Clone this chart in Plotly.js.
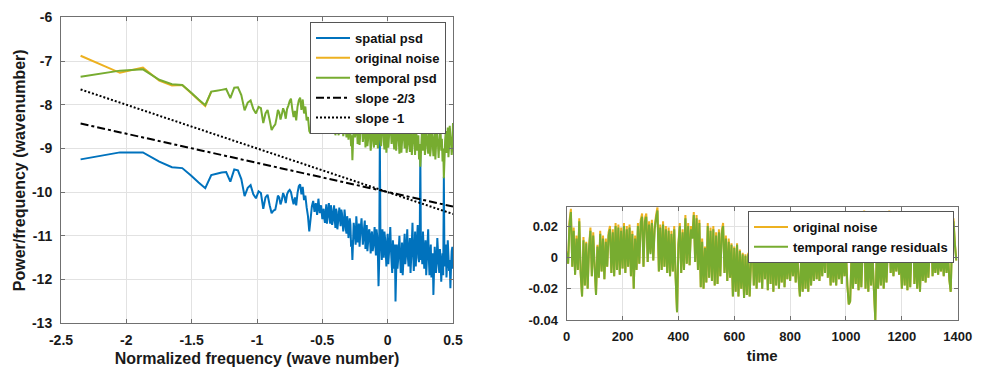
<!DOCTYPE html>
<html>
<head>
<meta charset="utf-8">
<script src="https://cdn.plot.ly/plotly-3.0.1.min.js"></script>
<style>
  html, body { margin: 0; padding: 0; background: #ffffff; }
  #chart { width: 984px; height: 367px; }
</style>
</head>
<body>
<div id="chart"></div>
<script>
// ---------------- Left panel: PSD (log10 normalized frequency) ----------------
const psdFreq = [
  -2.350,-2.049,-1.873,-1.748,-1.651,-1.572,-1.505,-1.447,-1.396,-1.350,
  -1.309,-1.271,-1.236,-1.204,-1.174,-1.146,-1.120,-1.095,-1.071,-1.049,
  -1.028,-1.008,-0.988,-0.970,-0.952,-0.935,-0.919,-0.903,-0.888,-0.873,
  -0.86,-0.85,-0.84,-0.83,-0.82,-0.81,-0.80,-0.79,-0.78,-0.77,
  -0.76,-0.75,-0.74,-0.73,-0.72,-0.71,-0.70,-0.69,-0.68,-0.67,
  -0.66,-0.65,-0.64,-0.63,-0.62,-0.61,-0.60,-0.59,-0.58,-0.57,
  -0.56,-0.55,-0.54,-0.53,-0.52,-0.51,
  -0.500,-0.495,-0.490,-0.485,-0.480,-0.475,-0.470,-0.465,-0.460,-0.455,
  -0.450,-0.445,-0.440,-0.435,-0.430,-0.425,-0.420,-0.415,-0.410,-0.405,
  -0.400,-0.395,-0.390,-0.385,-0.380,-0.375,-0.370,-0.365,-0.360,-0.355,
  -0.350,-0.345,-0.340,-0.335,-0.330,-0.325,-0.320,-0.315,-0.310,-0.305,
  -0.300,-0.295,-0.290,-0.285,-0.280,-0.275,-0.270,-0.265,-0.260,-0.255,
  -0.250,-0.245,-0.240,-0.235,-0.230,-0.225,-0.220,-0.215,-0.210,-0.205,
  -0.200,-0.195,-0.190,-0.185,-0.180,-0.175,-0.170,-0.165,-0.160,-0.155,
  -0.150,-0.145,-0.140,-0.135,-0.130,-0.125,-0.120,-0.115,-0.110,-0.105,
  -0.100,-0.095,-0.090,-0.085,-0.080,-0.075,-0.070,-0.065,-0.060,-0.055,
  -0.050,-0.045,-0.040,-0.035,-0.030,-0.025,-0.020,-0.015,-0.010,-0.005,
  0.000,0.005,0.010,0.015,0.020,0.025,0.030,0.035,0.040,0.045,
  0.050,0.055,0.060,0.065,0.070,0.075,0.080,0.085,0.090,0.095,
  0.100,0.105,0.110,0.115,0.120,0.125,0.130,0.135,0.140,0.145,
  0.150,0.155,0.160,0.165,0.170,0.175,0.180,0.185,0.190,0.195,
  0.200,0.205,0.210,0.215,0.220,0.225,0.230,0.235,0.240,0.245,
  0.250,0.255,0.260,0.265,0.270,0.275,0.280,0.285,0.290,0.295,
  0.300,0.305,0.310,0.315,0.320,0.325,0.330,0.335,0.340,0.345,
  0.350,0.355,0.360,0.365,0.370,0.375,0.380,0.385,0.390,0.395,
  0.400,0.405,0.410,0.415,0.420,0.425,0.430,0.435,0.440,0.445,
  0.450,0.455,0.460,0.465,0.470,0.475,0.480,0.485,0.490,0.495,
  0.500
];

const spatialPsd = [
  -9.25,-9.09,-9.09,-9.30,-9.43,-9.45,-9.62,-9.78,-9.91,-9.61,
  -9.58,-9.55,-9.54,-9.76,-9.48,-9.50,-9.70,-10.09,-9.90,-9.84,
  -10.05,-10.14,-9.98,-10.02,-10.38,-10.12,-10.06,-10.30,-10.48,-10.42,
  -10.40,-10.25,-10.08,-10.12,-10.28,-10.18,-10.02,-10.10,-10.25,-10.05,
  -9.98,-9.95,-10.00,-10.15,-10.28,-10.12,-10.30,-10.02,-9.86,-9.82,
  -10.05,-9.88,-10.18,-10.08,-10.35,-10.55,-10.90,-10.62,-10.32,-10.20,
  -10.45,-10.25,-10.52,-10.15,-10.48,-10.30,
  -10.62,-10.45,-10.38,-10.60,-10.70,-10.50,-10.28,-10.72,-10.58,-10.40,
  -10.25,-10.55,-10.72,-10.30,-10.40,-10.75,-10.66,-10.48,-10.30,-10.62,
  -10.82,-10.38,-10.45,-10.85,-10.70,-10.55,-10.35,-10.60,-10.78,-10.40,
  -10.48,-10.68,-10.90,-10.75,-10.40,-10.58,-10.85,-10.95,-10.55,-10.70,
  -11.05,-10.88,-10.60,-10.75,-11.25,-11.10,-11.55,-11.15,-10.70,-10.85,
  -11.00,-11.20,-10.55,-10.80,-11.15,-10.95,-10.72,-11.25,-10.98,-10.78,
  -10.60,-10.90,-11.20,-11.05,-10.80,-10.65,-11.30,-11.00,-10.75,-11.35,
  -11.15,-10.90,-10.85,-11.10,-11.40,-11.00,-10.90,-11.35,-11.25,-11.05,
  -10.80,-11.15,-11.45,-10.85,-11.00,-11.40,-12.15,-11.60,-8.75,-11.10,
  -11.30,-11.55,-10.85,-11.20,-11.50,-10.90,-11.05,-11.35,-11.70,-11.20,
  -10.95,-11.65,-11.40,-11.15,-10.80,-11.30,-11.60,-11.85,-11.10,-11.35,
  -11.75,-11.20,-12.50,-11.85,-11.20,-11.75,-11.55,-11.30,-11.00,-11.45,
  -11.85,-11.60,-11.15,-11.90,-11.60,-11.25,-10.95,-11.65,-11.45,-11.20,
  -10.85,-11.50,-11.70,-11.30,-11.05,-11.85,-11.50,-11.15,-10.70,-11.40,
  -11.80,-11.45,-10.90,-11.70,-11.35,-11.05,-10.75,-11.50,-11.60,-11.20,
  -9.15,-11.55,-11.30,-11.65,-10.90,-11.25,-11.75,-11.45,-11.10,-11.90,
  -11.55,-11.20,-10.85,-11.50,-11.90,-11.45,-11.20,-11.95,-11.70,-11.40,
  -12.35,-11.80,-11.25,-11.50,-11.85,-11.60,-11.05,-11.35,-11.65,-11.85,
  -11.30,-11.55,-12.05,-11.70,-11.40,-11.90,-9.65,-11.70,-11.50,-11.20,
  -11.95,-11.60,-11.10,-11.45,-11.80,-11.55,-12.20,-11.70,-11.35,-11.25,
  -11.75
];

const temporalPsd = [
  -7.36,-7.22,-7.19,-7.43,-7.53,-7.55,-7.72,-7.88,-8.01,-7.70,
  -7.68,-7.66,-7.64,-7.85,-7.61,-7.60,-7.78,-8.13,-7.95,-7.90,
  -8.10,-8.20,-8.05,-8.08,-8.42,-8.20,-8.12,-8.35,-8.58,-8.50,
  -8.45,-8.30,-8.12,-8.18,-8.34,-8.22,-8.08,-8.16,-8.32,-8.10,
  -8.02,-7.92,-7.86,-8.10,-8.28,-8.14,-8.36,-8.05,-7.90,-7.84,
  -8.12,-7.88,-8.20,-8.04,-8.36,-8.28,-8.60,-8.66,-8.34,-8.12,
  -8.42,-8.18,-8.46,-8.06,-8.38,-8.20,
  -8.52,-8.36,-8.28,-8.20,-8.60,-8.44,-8.15,-8.58,-8.48,-8.30,
  -8.22,-8.40,-8.62,-8.50,-8.30,-8.24,-8.55,-8.64,-8.18,-8.35,
  -8.70,-8.52,-8.36,-8.28,-8.58,-8.70,-8.25,-8.40,-8.66,-8.55,
  -8.35,-8.28,-8.72,-8.62,-8.18,-8.40,-8.60,-8.75,-8.42,-8.30,
  -8.80,-8.58,-8.30,-8.62,-8.95,-8.70,-9.27,-8.85,-8.50,-8.40,
  -8.75,-8.62,-8.32,-8.48,-8.90,-8.70,-8.45,-8.92,-8.68,-8.55,
  -8.28,-8.40,-8.85,-8.70,-8.52,-8.38,-8.98,-8.66,-8.40,-8.95,
  -8.80,-8.32,-8.55,-8.72,-9.05,-8.88,-8.48,-8.40,-8.78,-8.98,
  -8.35,-8.58,-8.92,-8.42,-8.60,-9.00,-8.88,-8.62,-8.45,-8.70,
  -8.95,-8.55,-8.30,-8.48,-8.82,-9.02,-8.58,-8.40,-9.10,-8.78,
  -8.42,-8.98,-8.75,-8.50,-8.25,-8.62,-8.90,-8.35,-8.55,-8.80,
  -9.02,-8.70,-8.38,-9.05,-8.80,-8.45,-8.62,-8.82,-9.12,-8.70,
  -8.48,-9.10,-8.85,-8.60,-8.35,-8.75,-9.00,-8.40,-8.62,-9.10,
  -8.95,-8.72,-8.50,-8.85,-9.08,-8.48,-8.70,-9.15,-8.92,-8.68,
  -8.45,-8.82,-9.15,-8.52,-8.66,-9.05,-8.95,-8.70,-9.25,-8.90,
  -9.42,-9.10,-8.75,-8.52,-9.05,-8.85,-8.58,-9.15,-8.98,-8.55,
  -8.72,-8.88,-9.12,-8.75,-8.50,-9.18,-9.02,-8.58,-8.68,-8.90,
  -9.18,-8.82,-8.60,-9.25,-8.95,-8.52,-8.78,-8.92,-9.22,-8.85,
  -8.55,-8.62,-9.05,-8.78,-9.30,-9.00,-9.68,-9.25,-8.80,-8.60,
  -9.10,-8.88,-8.52,-9.20,-8.96,-8.48,-8.70,-8.85,-9.15,-8.95,
  -8.42
];

// original noise spectrum (only differs visibly at the lowest wavenumbers)
const noiseFreq = [-2.350,-2.049,-1.873,-1.748,-1.651,-1.572,-1.505,-1.447,-1.396,-1.350];
const noisePsd  = [-6.88,-7.27,-7.15,-7.45,-7.56,-7.55,-7.73,-7.89,-8.03,-7.70];

// reference slopes (end points)
const slopeX    = [-2.35, 0.50];
const slope23Y  = [-8.43, -10.33];
const slope1Y   = [-7.65, -10.50];

const psdXTickVals = [-2.5,-2,-1.5,-1,-0.5,0,0.5];
const psdXTickText = ['-2.5','-2','-1.5','-1','-0.5','0','0.5'];
const psdYTickVals = [-13,-12,-11,-10,-9,-8,-7,-6];
const psdYTickText = ['-13','-12','-11','-10','-9','-8','-7','-6'];

// ---------------- Right panel: time series ----------------
const timeSteps = [
  0,5,10,15,20,25,30,35,40,45,50,55,60,65,70,75,80,85,90,95,
  100,105,110,115,120,125,130,135,140,145,150,155,160,165,170,175,180,185,190,195,
  200,205,210,215,220,225,230,235,240,245,250,255,260,265,270,275,280,285,290,295,
  300,305,310,315,320,325,330,335,340,345,350,355,360,365,370,375,380,385,390,395,
  400,405,410,415,420,425,430,435,440,445,450,455,460,465,470,475,480,485,490,495,
  500,505,510,515,520,525,530,535,540,545,550,555,560,565,570,575,580,585,590,595,
  600,605,610,615,620,625,630,635,640,645,650,655,660,665,670,675,680,685,690,695,
  700,705,710,715,720,725,730,735,740,745,750,755,760,765,770,775,780,785,790,795,
  800,805,810,815,820,825,830,835,840,845,850,855,860,865,870,875,880,885,890,895,
  900,905,910,915,920,925,930,935,940,945,950,955,960,965,970,975,980,985,990,995,
  1000,1005,1010,1015,1020,1025,1030,1035,1040,1045,1050,1055,1060,1065,1070,1075,1080,1085,1090,1095,
  1100,1105,1110,1115,1120,1125,1130,1135,1140,1145,1150,1155,1160,1165,1170,1175,1180,1185,1190,1195,
  1200,1205,1210,1215,1220,1225,1230,1235,1240,1245,1250,1255,1260,1265,1270,1275,1280,1285,1290,1295,
  1300,1305,1310,1315,1320,1325,1330,1335,1340,1345,1350,1355,1360,1365,1370,1375,1380,1385,1390,1395
];

const originalNoise = [
  0.004,-0.004,0.023,0.031,-0.006,0.019,-0.011,0.014,-0.008,0.025,
  -0.010,-0.025,0.013,-0.018,0.010,-0.020,0.007,0.019,-0.012,0.016,
  -0.006,-0.024,0.008,-0.013,0.017,-0.009,0.014,-0.014,0.012,-0.006,
  0.016,0.020,-0.010,0.018,-0.012,0.022,-0.008,0.021,-0.011,0.019,
  -0.007,0.022,-0.010,0.020,-0.006,0.021,-0.012,0.017,-0.020,0.014,
  -0.008,0.022,-0.004,0.024,0.028,-0.006,0.025,0.028,-0.003,0.023,
  0.003,0.024,-0.002,0.020,0.027,0.032,-0.009,0.021,-0.008,0.023,
  -0.006,0.020,-0.010,0.019,-0.012,0.017,-0.009,0.020,-0.013,-0.035,
  0.009,0.022,-0.010,0.018,-0.008,0.027,-0.004,0.022,-0.005,0.020,
  0.014,0.029,-0.003,0.027,-0.008,0.024,-0.019,0.012,-0.020,0.007,
  -0.016,0.022,-0.013,0.019,-0.015,0.020,-0.018,0.016,-0.017,0.018,
  -0.012,0.017,0.022,-0.010,0.014,-0.015,0.012,-0.013,0.009,-0.025,
  0.007,-0.022,0.009,-0.025,0.005,-0.020,0.003,-0.026,0.002,-0.024,
  0.003,-0.025,-0.003,0.012,-0.018,0.009,-0.020,0.013,-0.016,0.010,
  -0.020,0.014,-0.014,0.012,-0.021,0.015,-0.017,0.013,-0.022,0.009,
  -0.018,0.009,-0.020,0.006,-0.016,0.007,-0.019,0.005,-0.014,0.004,
  -0.015,0.005,-0.012,0.003,-0.016,0.006,-0.013,-0.025,0.004,-0.022,
  0.005,-0.020,0.003,-0.022,0.006,-0.018,0.004,-0.015,0.007,-0.014,
  0.006,-0.015,0.007,-0.012,0.012,-0.010,0.029,-0.013,0.005,-0.018,
  0.005,-0.016,0.004,-0.018,0.006,-0.014,0.003,-0.017,0.005,-0.012,
  0.004,-0.018,-0.030,-0.028,0.003,-0.020,0.005,-0.017,0.004,-0.021,
  0.005,-0.019,0.007,0.030,-0.020,0.004,-0.022,0.006,-0.018,0.003,
  -0.021,-0.040,0.005,-0.020,0.004,-0.018,0.006,-0.020,0.003,-0.016,
  0.007,0.030,-0.010,0.005,-0.012,0.004,-0.009,0.006,-0.011,0.003,
  -0.020,0.005,-0.018,0.004,-0.021,0.006,-0.019,0.007,0.027,-0.017,
  0.005,-0.020,0.004,-0.022,0.006,-0.015,0.003,-0.016,0.005,-0.013,
  0.006,0.027,-0.012,0.004,-0.010,0.005,-0.011,0.003,-0.009,0.004,
  -0.012,0.005,-0.010,0.004,-0.014,-0.022,0.014,0.025,0.009,-0.002
];

const rangeResiduals = [
  0.003,-0.004,0.021,0.029,-0.006,0.017,-0.011,0.012,-0.008,0.023,
  -0.010,-0.025,0.011,-0.018,0.009,-0.020,0.006,0.017,-0.012,0.014,
  -0.006,-0.024,0.007,-0.013,0.015,-0.009,0.012,-0.014,0.010,-0.006,
  0.014,0.018,-0.010,0.016,-0.012,0.020,-0.008,0.019,-0.011,0.017,
  -0.007,0.020,-0.010,0.018,-0.006,0.019,-0.012,0.015,-0.020,0.012,
  -0.008,0.020,-0.004,0.022,0.026,-0.006,0.023,0.026,-0.003,0.021,
  0.002,0.022,-0.002,0.018,0.025,0.030,-0.009,0.019,-0.008,0.021,
  -0.006,0.018,-0.010,0.017,-0.012,0.015,-0.009,0.018,-0.013,-0.035,
  0.008,0.020,-0.010,0.016,-0.008,0.025,-0.004,0.020,-0.005,0.018,
  0.012,0.027,-0.003,0.025,-0.008,0.022,-0.019,0.010,-0.020,0.006,
  -0.016,0.020,-0.013,0.017,-0.015,0.018,-0.018,0.014,-0.017,0.016,
  -0.012,0.015,0.020,-0.010,0.012,-0.015,0.010,-0.013,0.008,-0.025,
  0.006,-0.022,0.008,-0.025,0.004,-0.020,0.002,-0.026,0.001,-0.024,
  0.002,-0.025,-0.003,0.010,-0.018,0.008,-0.020,0.011,-0.016,0.009,
  -0.020,0.012,-0.014,0.010,-0.021,0.013,-0.017,0.011,-0.022,0.008,
  -0.018,0.008,-0.020,0.005,-0.016,0.006,-0.019,0.004,-0.014,0.003,
  -0.015,0.004,-0.012,0.002,-0.016,0.005,-0.013,-0.025,0.003,-0.022,
  0.004,-0.020,0.002,-0.022,0.005,-0.018,0.003,-0.015,0.006,-0.014,
  0.005,-0.015,0.006,-0.012,0.010,-0.010,0.026,-0.013,0.004,-0.018,
  0.004,-0.016,0.003,-0.018,0.005,-0.014,0.002,-0.017,0.004,-0.012,
  0.003,-0.018,-0.030,-0.028,0.002,-0.020,0.004,-0.017,0.003,-0.021,
  0.004,-0.019,0.006,0.027,-0.020,0.003,-0.022,0.005,-0.018,0.002,
  -0.021,-0.040,0.004,-0.020,0.003,-0.018,0.005,-0.020,0.002,-0.016,
  0.006,0.027,-0.010,0.004,-0.012,0.003,-0.009,0.005,-0.011,0.002,
  -0.020,0.004,-0.018,0.003,-0.021,0.005,-0.019,0.006,0.024,-0.017,
  0.004,-0.020,0.003,-0.022,0.005,-0.015,0.002,-0.016,0.004,-0.013,
  0.005,0.024,-0.012,0.003,-0.010,0.004,-0.011,0.002,-0.009,0.003,
  -0.012,0.004,-0.010,0.003,-0.014,-0.022,0.012,0.023,0.008,-0.002
];

const timeTickVals = [0,200,400,600,800,1000,1200,1400];
const timeTickText = ['0','200','400','600','800','1000','1200','1400'];
const resYTickVals = [-0.04,-0.02,0,0.02];
const resYTickText = ['-0.04','-0.02','0','0.02'];

// ---------------- Styling ----------------
const C_BLUE = '#0072BD', C_ORANGE = '#EDB120', C_GREEN = '#77AC30', C_BLACK = '#000000';
const FONT = 'Liberation Sans, Arial, Helvetica, sans-serif';
const W = 984, H = 367;

const traces = [
  { x: psdFreq, y: spatialPsd, type: 'scatter', mode: 'lines', name: 'spatial psd',
    line: { color: C_BLUE, width: 2, simplify: false }, xaxis: 'x', yaxis: 'y', legend: 'legend' },
  { x: noiseFreq, y: noisePsd, type: 'scatter', mode: 'lines', name: 'original noise',
    line: { color: C_ORANGE, width: 2, simplify: false }, xaxis: 'x', yaxis: 'y', legend: 'legend' },
  { x: psdFreq, y: temporalPsd, type: 'scatter', mode: 'lines', name: 'temporal psd',
    line: { color: C_GREEN, width: 2, simplify: false }, xaxis: 'x', yaxis: 'y', legend: 'legend' },
  { x: slopeX, y: slope23Y, type: 'scatter', mode: 'lines', name: 'slope -2/3',
    line: { color: C_BLACK, width: 2, dash: '8px,3px,3px,3px' }, xaxis: 'x', yaxis: 'y', legend: 'legend' },
  { x: slopeX, y: slope1Y, type: 'scatter', mode: 'lines', name: 'slope -1',
    line: { color: C_BLACK, width: 2, dash: '2px,2px' }, xaxis: 'x', yaxis: 'y', legend: 'legend' },
  { x: timeSteps, y: originalNoise, type: 'scatter', mode: 'lines', name: 'original noise',
    line: { color: C_ORANGE, width: 2, simplify: false }, xaxis: 'x2', yaxis: 'y2', legend: 'legend2' },
  { x: timeSteps, y: rangeResiduals, type: 'scatter', mode: 'lines', name: 'temporal range residuals',
    line: { color: C_GREEN, width: 2, simplify: false }, xaxis: 'x2', yaxis: 'y2', legend: 'legend2' }
];

const axisCommon = {
  showgrid: true, gridcolor: '#e2e2e2', gridwidth: 1, zeroline: false,
  showline: true, linecolor: '#707070', linewidth: 1, mirror: 'ticks',
  ticks: 'inside', ticklen: 4, tickcolor: '#707070', tickmode: 'array',
  fixedrange: true
};

const layout = {
  width: W, height: H,
  margin: { l: 0, r: 0, t: 0, b: 0, pad: 0 },
  paper_bgcolor: '#ffffff', plot_bgcolor: '#ffffff',
  font: { family: FONT, size: 13, color: '#1a1a1a', weight: 'bold' },
  showlegend: true,
  xaxis: Object.assign({}, axisCommon, {
    domain: [61 / W, 453 / W], range: [-2.5, 0.5], anchor: 'y',
    tickvals: psdXTickVals, ticktext: psdXTickText,
    tickfont: { family: FONT, size: 14, color: '#1a1a1a', weight: 'bold' },
    ticklabelstandoff: 4,
    title: { text: 'Normalized frequency (wave number)', standoff: 9,
             font: { family: FONT, size: 16, color: '#1a1a1a', weight: 'bold' } }
  }),
  yaxis: Object.assign({}, axisCommon, {
    domain: [(H - 323.3) / H, (H - 17.3) / H], range: [-13, -6], anchor: 'x',
    tickvals: psdYTickVals, ticktext: psdYTickText,
    tickfont: { family: FONT, size: 14, color: '#1a1a1a', weight: 'bold' },
    ticklabelstandoff: 5,
    title: { text: 'Power/frequency (wavenumber)', standoff: 2,
             font: { family: FONT, size: 16, color: '#1a1a1a', weight: 'bold' } }
  }),
  xaxis2: Object.assign({}, axisCommon, {
    domain: [566.7 / W, 957.7 / W], range: [0, 1400], anchor: 'y2',
    tickvals: timeTickVals, ticktext: timeTickText,
    tickfont: { family: FONT, size: 13, color: '#1a1a1a', weight: 'bold' },
    ticklabelstandoff: 4,
    title: { text: 'time', standoff: 7,
             font: { family: FONT, size: 15, color: '#1a1a1a', weight: 'bold' } }
  }),
  yaxis2: Object.assign({}, axisCommon, {
    domain: [(H - 320) / H, (H - 207.3) / H], range: [-0.04, 0.032], anchor: 'x2',
    tickvals: resYTickVals, ticktext: resYTickText,
    tickfont: { family: FONT, size: 13, color: '#1a1a1a', weight: 'bold' },
    ticklabelstandoff: 5
  }),
  legend: {
    x: 310 / W, y: (H - 22) / H, xanchor: 'left', yanchor: 'top',
    bgcolor: '#ffffff', bordercolor: '#555555', borderwidth: 1,
    font: { family: FONT, size: 13, color: '#111111', weight: 'bold' },
    itemwidth: 34, tracegroupgap: 0, traceorder: 'normal'
  },
  legend2: {
    x: 748 / W, y: (H - 211) / H, xanchor: 'left', yanchor: 'top',
    bgcolor: '#ffffff', bordercolor: '#555555', borderwidth: 1,
    font: { family: FONT, size: 13, color: '#111111', weight: 'bold' },
    itemwidth: 34, tracegroupgap: 0, traceorder: 'normal'
  }
};

Plotly.newPlot('chart', traces, layout, { displayModeBar: false, staticPlot: true });
</script>
</body>
</html>
